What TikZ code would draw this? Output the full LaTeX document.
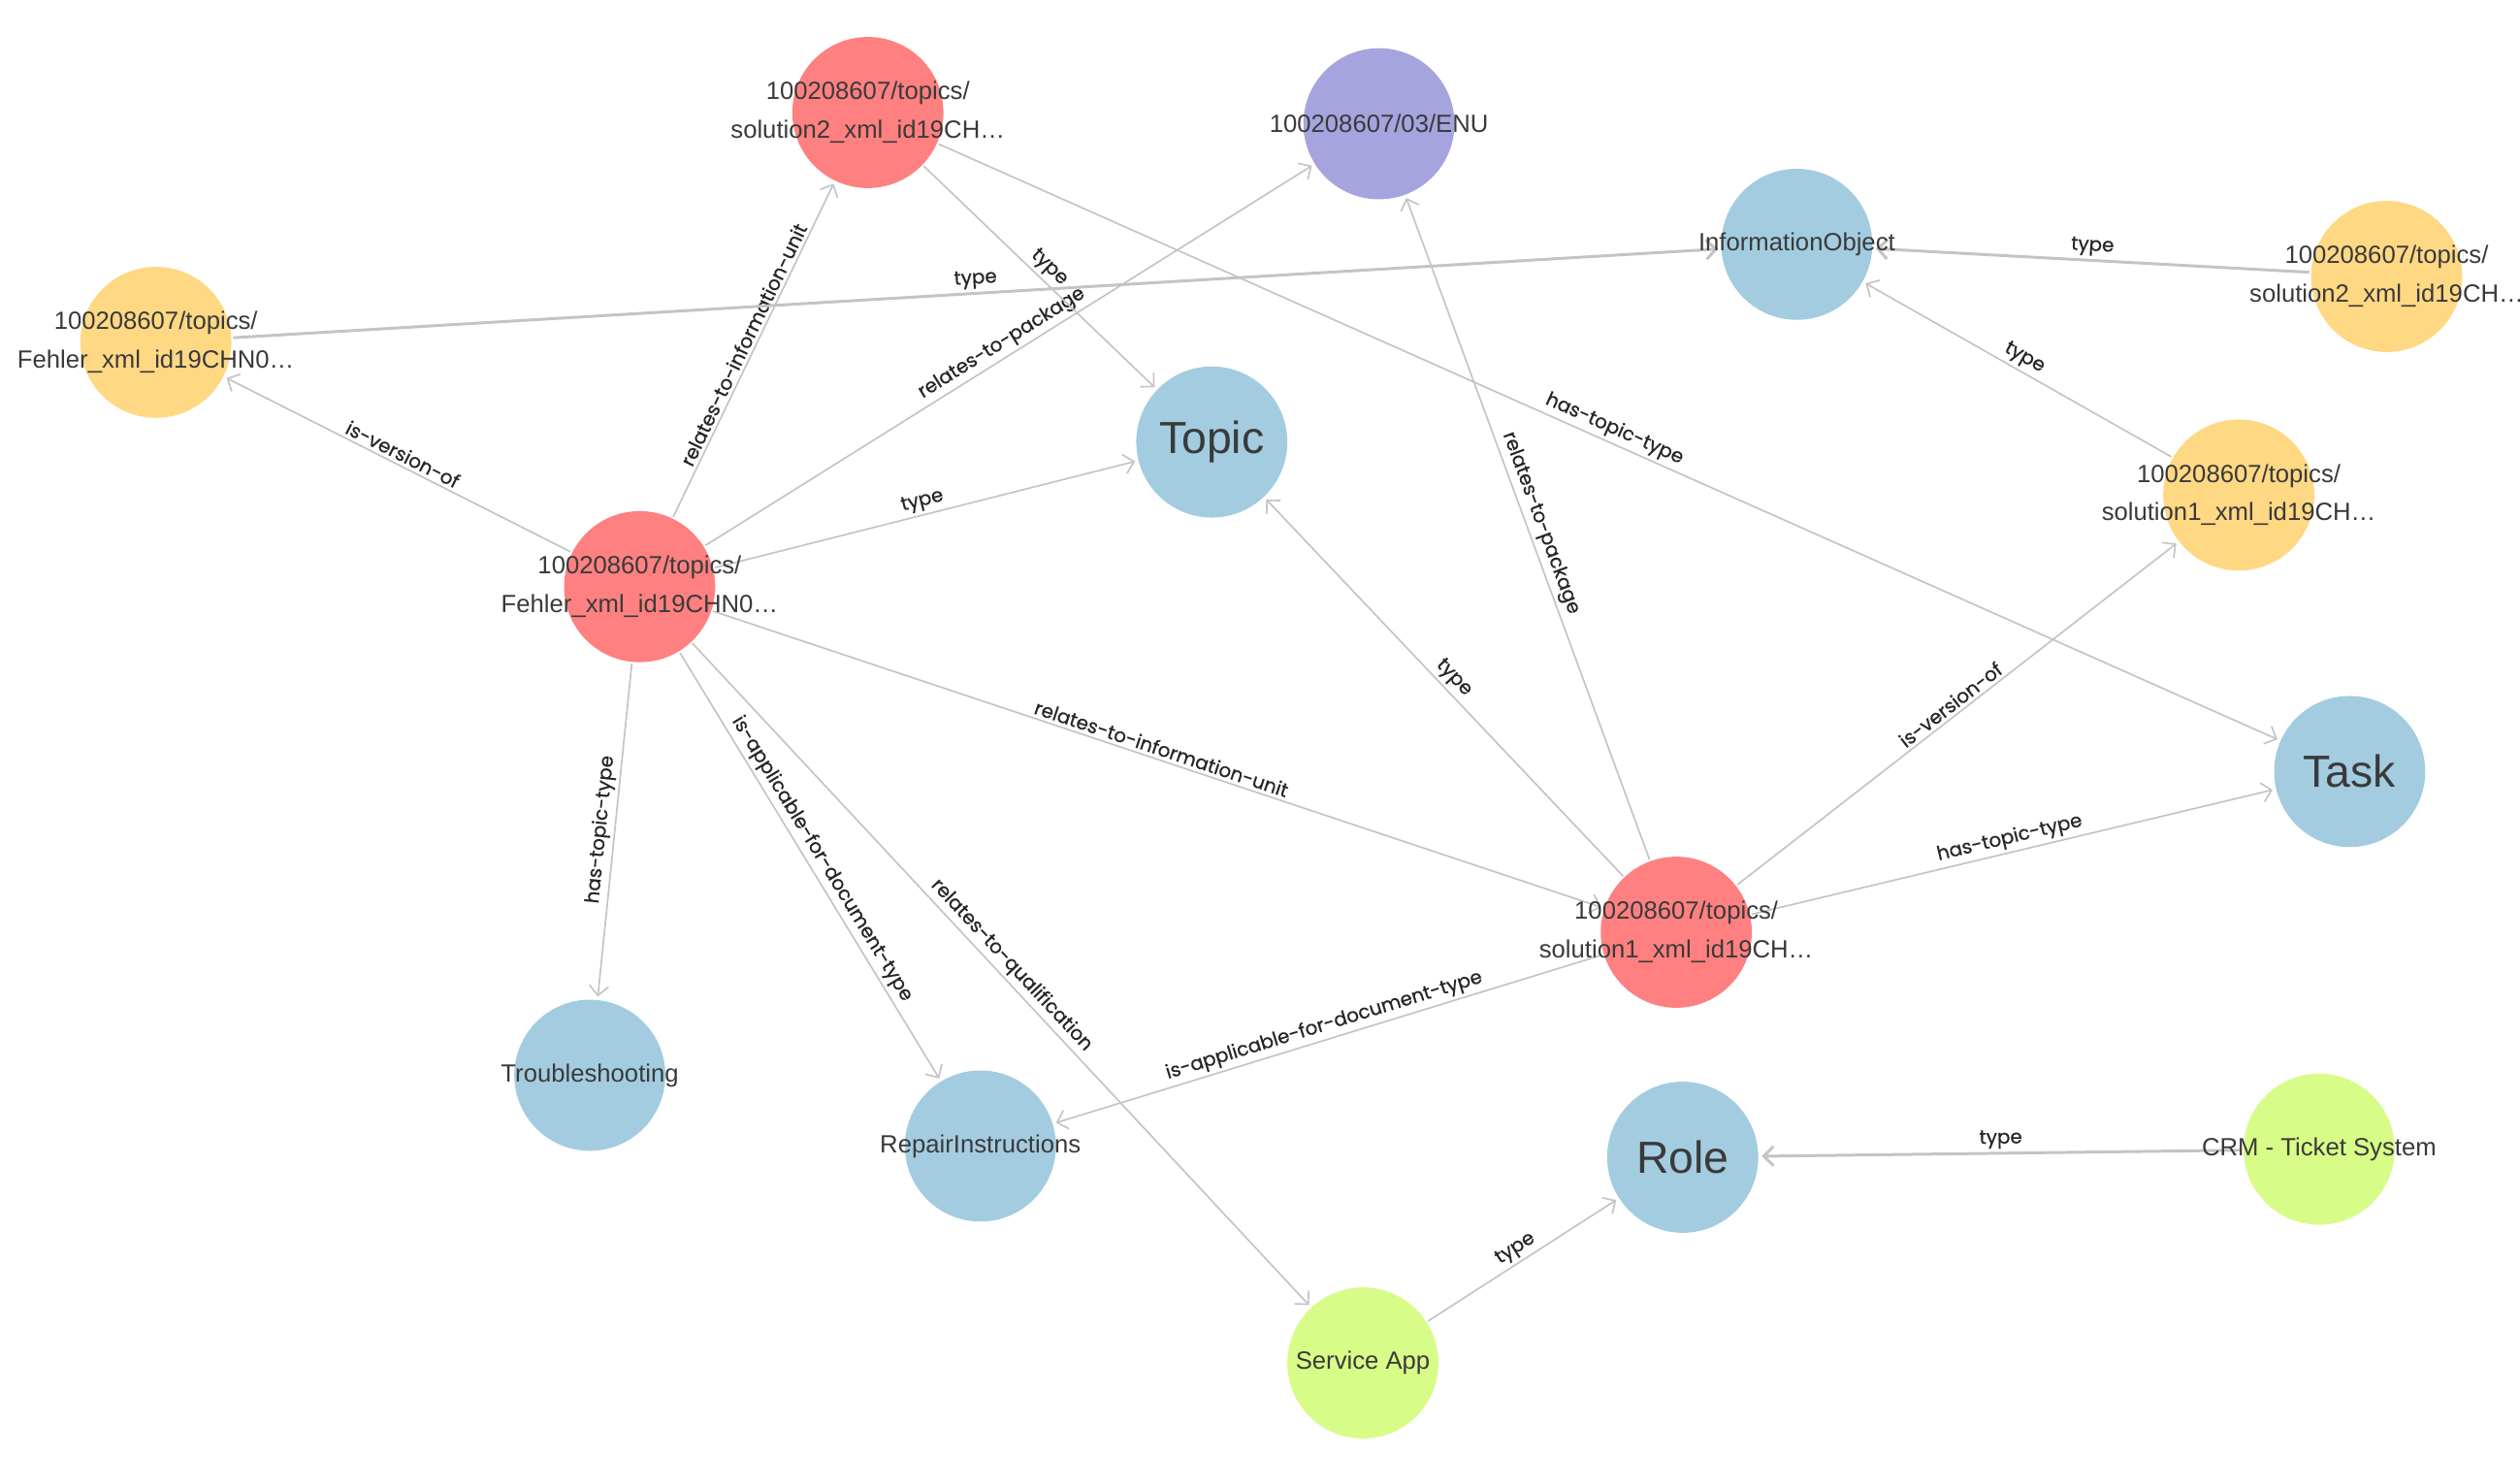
\documentclass[tikz,border=0pt]{standalone}
\usepackage{fontspec}
\setmainfont{Liberation Sans}
\newfontfamily\edgefont[FakeBold=0.6]{Poppins}
\usetikzlibrary{arrows.meta}
\definecolor{cred}{HTML}{FF8080}
\definecolor{cpurple}{HTML}{A6A4DE}
\definecolor{cblue}{HTML}{A3CCE0}
\definecolor{cyellow}{HTML}{FFD884}
\definecolor{cgreen}{HTML}{D8FC88}
\definecolor{cline}{HTML}{C4C4C4}
\definecolor{ctext}{HTML}{3A3A3A}
\begin{document}
\begin{tikzpicture}[x=1pt,y=-1pt,
  circ/.style={circle, minimum size=94pt, inner sep=0pt, draw=none},
  lab/.style={align=center, text=ctext, font=\fontsize{15.5}{24}\selectfont, inner sep=0pt},
  biglab/.style={text=ctext, font=\fontsize{28}{30}\selectfont, inner sep=0pt},
  edge/.style={draw=cline, line width=1pt, -{Straight Barb[length=6pt,width=12pt]}, shorten >=2pt, shorten <=1pt},
  thickedge/.style={edge, line width=1.8pt},
  elab/.style={midway, sloped, above=1pt, inner sep=1pt, text=black!85, font=\edgefont\fontsize{12}{14}\selectfont}
]
\useasboundingbox (0,0) rectangle (1568,906);
\fill[white] (0,0) rectangle (1568,906);

% circles
\node[circ, fill=cred]    (n1)  at (540,70)   {};
\node[circ, fill=cpurple] (n2)  at (858,77)   {};
\node[circ, fill=cblue]   (n3)  at (1118,152) {};
\node[circ, fill=cyellow] (n4)  at (1485,172) {};
\node[circ, fill=cyellow] (n5)  at (97,213)   {};
\node[circ, fill=cblue]   (n6)  at (754,275)  {};
\node[circ, fill=cyellow] (n7)  at (1393,308) {};
\node[circ, fill=cred]    (n8)  at (398,365)  {};
\node[circ, fill=cblue]   (n9)  at (1462,480) {};
\node[circ, fill=cred]    (n10) at (1043,580) {};
\node[circ, fill=cblue]   (n11) at (367,669)  {};
\node[circ, fill=cblue]   (n12) at (610,713)  {};
\node[circ, fill=cblue]   (n13) at (1047,720) {};
\node[circ, fill=cgreen]  (n14) at (1443,715) {};
\node[circ, fill=cgreen]  (n15) at (848,848)  {};

% connectors
\draw[edge] (n8) -- node[elab]{is-version-of} (n5);
\draw[edge] (n8) -- node[elab]{relates-to-information-unit} (n1);
\draw[edge] (n8) -- node[elab]{relates-to-package} (n2);
\draw[edge] (n8) -- node[elab]{type} (n6);
\draw[edge] (n8) -- node[elab]{has-topic-type} (n11);
\draw[edge] (n8) -- node[elab]{is-applicable-for-document-type} (n12);
\draw[edge] (n8) -- node[elab]{relates-to-qualification} (n15);
\draw[edge] (n8) -- node[elab]{relates-to-information-unit} (n10);
\draw[edge] (n1) -- node[elab]{type} (n6);
\draw[edge] (n1) -- node[elab]{has-topic-type} (n9);
\draw[edge] (n10) -- node[elab]{type} (n6);
\draw[edge] (n10) -- node[elab]{relates-to-package} (n2);
\draw[edge] (n10) -- node[elab]{is-version-of} (n7);
\draw[edge] (n10) -- node[elab]{has-topic-type} (n9);
\draw[edge] (n10) -- node[elab]{is-applicable-for-document-type} (n12);
\draw[edge] (n7) -- node[elab]{type} (n3);
\draw[thickedge] (n5) -- node[elab]{type} (n3);
\draw[thickedge] (n4) -- node[elab]{type} (n3);
\draw[thickedge] (n14) -- node[elab]{type} (n13);
\draw[edge] (n15) -- node[elab]{type} (n13);

% labels
\node[lab] at (n1)  {100208607/topics/\\solution2\_xml\_id19CH…};
\node[lab] at (n2)  {100208607/03/ENU};
\node[lab] at (n3)  {InformationObject};
\node[lab] at (n4)  {100208607/topics/\\solution2\_xml\_id19CH…};
\node[lab] at (n5)  {100208607/topics/\\Fehler\_xml\_id19CHN0…};
\node[biglab] at (n6) {Topic};
\node[lab] at (n7)  {100208607/topics/\\solution1\_xml\_id19CH…};
\node[lab] at (n8)  {100208607/topics/\\Fehler\_xml\_id19CHN0…};
\node[biglab] at (n9) {Task};
\node[lab] at (n10) {100208607/topics/\\solution1\_xml\_id19CH…};
\node[lab] at (n11) {Troubleshooting};
\node[lab] at (n12) {RepairInstructions};
\node[biglab] at (n13) {Role};
\node[lab] at (n14) {CRM - Ticket System};
\node[lab] at (n15) {Service App};
\end{tikzpicture}
\end{document}
